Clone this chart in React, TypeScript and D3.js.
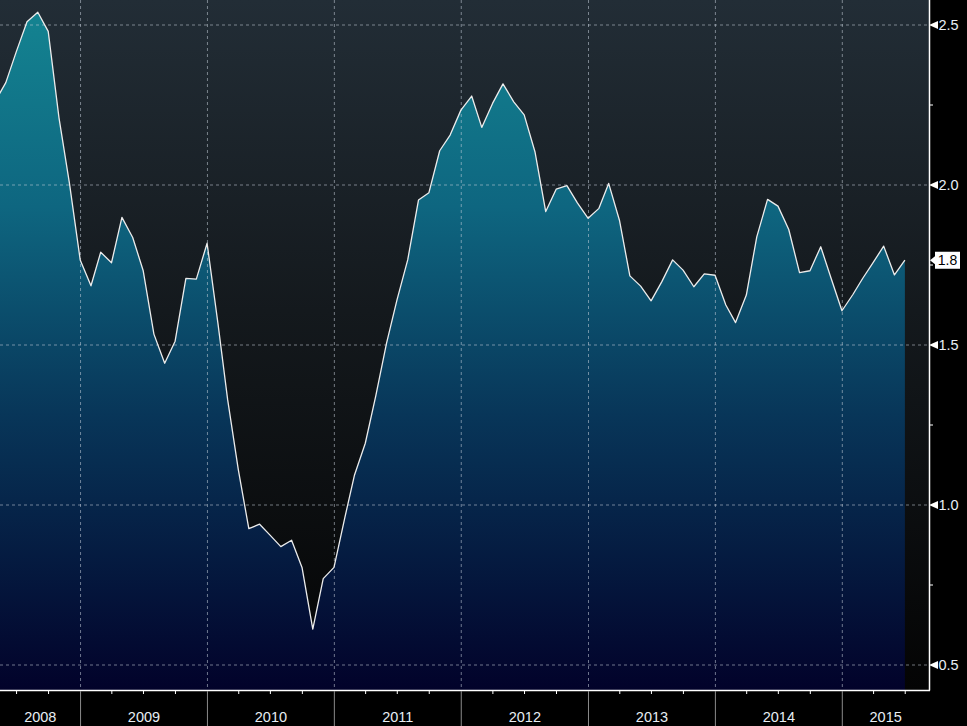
import React from 'react';
import * as d3 from 'd3';

const W = 967;
const H = 726;
const PLOT_RIGHT = 929;
const PLOT_BOTTOM = 690;

// Monthly series, first value = April 2008, plotted at month end
const startYear = 2008;
const startMonth = 3;
const values2008 = [2.26, 2.32, 2.416, 2.51, 2.54, 2.48, 2.21, 2.006, 1.766];
const values2009 = [1.685, 1.79, 1.757, 1.899, 1.836, 1.733, 1.534, 1.443, 1.512, 1.708, 1.706, 1.818];
const values2010 = [1.569, 1.33, 1.109, 0.926, 0.94, 0.906, 0.87, 0.89, 0.805, 0.612, 0.77, 0.805];
const values2011 = [0.96, 1.094, 1.193, 1.34, 1.505, 1.64, 1.766, 1.953, 1.976, 2.107, 2.156, 2.234];
const values2012 = [2.278, 2.18, 2.255, 2.316, 2.26, 2.219, 2.104, 1.917, 1.987, 1.998, 1.944, 1.896];
const values2013 = [1.927, 2.005, 1.89, 1.716, 1.684, 1.638, 1.698, 1.766, 1.734, 1.682, 1.722, 1.718];
const values2014 = [1.625, 1.57, 1.656, 1.838, 1.955, 1.934, 1.861, 1.726, 1.732, 1.807, 1.708, 1.607];
const values2015 = [1.657, 1.707, 1.758, 1.809, 1.719, 1.765];

const yTicks = [0.5, 1.0, 1.5, 2.0, 2.5];
const yMinorTicks = [0.75, 1.25, 1.75, 2.25];
const yearLabels = [2008, 2009, 2010, 2011, 2012, 2013, 2014, 2015];
const lastLabel = '1.8';

const allValues = [
  ...values2008, ...values2009, ...values2010, ...values2011,
  ...values2012, ...values2013, ...values2014, ...values2015,
];
const data = allValues.map((v, i) => ({
  date: new Date(startYear, startMonth + i + 1, 0),
  value: v,
}));

const FONT = '"Liberation Sans", Arial, sans-serif';

export default function App() {
  const x = d3
    .scaleTime()
    .domain([new Date(2008, 0, 1), new Date(2015, 0, 1)])
    .range([-46.7, 842.3]);
  const y = d3.scaleLinear().domain([0.5, 2.5]).range([665, 25]);

  const line = d3
    .line<{ date: Date; value: number }>()
    .x((d) => x(d.date))
    .y((d) => y(d.value));
  const area = d3
    .area<{ date: Date; value: number }>()
    .x((d) => x(d.date))
    .y0(PLOT_BOTTOM)
    .y1((d) => y(d.value));

  const quarterTicks = d3.timeMonth
    .every(3)!
    .range(new Date(2008, 0, 1), new Date(2016, 0, 1))
    .filter((d) => d.getMonth() !== 0)
    .map((d) => x(d))
    .filter((px) => px >= 0 && px <= PLOT_RIGHT);

  const yearLines = yearLabels
    .map((yr) => x(new Date(yr, 0, 1)))
    .filter((px) => px > 0 && px < PLOT_RIGHT);

  const last = data[data.length - 1];
  const ly = y(last.value);

  const gridColor = 'rgba(200,210,220,0.55)';

  return (
    <svg
      width={W}
      height={H}
      style={{ position: 'absolute', left: 0, top: 0, background: '#000' }}
    >
      <defs>
        <linearGradient id="bgGrad" gradientUnits="userSpaceOnUse" x1="0" y1="0" x2="0" y2={PLOT_BOTTOM}>
          <stop offset="0" stopColor="#222d36" />
          <stop offset="0.45" stopColor="#14191d" />
          <stop offset="1" stopColor="#040404" />
        </linearGradient>
        <linearGradient id="areaGrad" gradientUnits="userSpaceOnUse" x1="0" y1="0" x2="0" y2={PLOT_BOTTOM}>
          <stop offset="0" stopColor="#148592" />
          <stop offset="0.3" stopColor="#0e6680" />
          <stop offset="0.6" stopColor="#083659" />
          <stop offset="1" stopColor="#02022a" />
        </linearGradient>
        <clipPath id="plotClip">
          <rect x={0} y={0} width={PLOT_RIGHT} height={PLOT_BOTTOM} />
        </clipPath>
      </defs>

      <rect x={0} y={0} width={PLOT_RIGHT} height={PLOT_BOTTOM} fill="url(#bgGrad)" />

      <g clipPath="url(#plotClip)">
        <path d={area(data) || ''} fill="url(#areaGrad)" />
        {yTicks.map((t) => (
          <line
            key={'h' + t}
            x1={0}
            x2={PLOT_RIGHT}
            y1={y(t)}
            y2={y(t)}
            stroke={gridColor}
            strokeWidth={1}
            strokeDasharray="3,3"
          />
        ))}
        {yearLines.map((px, i) => (
          <line
            key={'v' + i}
            x1={px}
            x2={px}
            y1={0}
            y2={PLOT_BOTTOM}
            stroke={gridColor}
            strokeWidth={1}
            strokeDasharray="3,3"
          />
        ))}
        <path d={line(data) || ''} fill="none" stroke="#ececec" strokeWidth={1.3} strokeLinejoin="round" />
      </g>

      {/* plot frame */}
      <line x1={PLOT_RIGHT + 0.5} x2={PLOT_RIGHT + 0.5} y1={0} y2={PLOT_BOTTOM + 0.5} stroke="#fff" strokeWidth={1.5} />
      <line x1={0} x2={PLOT_RIGHT + 1} y1={PLOT_BOTTOM + 0.5} y2={PLOT_BOTTOM + 0.5} stroke="#fff" strokeWidth={1.5} />

      {/* y axis */}
      {yMinorTicks.map((t) => (
        <line key={'m' + t} x1={PLOT_RIGHT} x2={PLOT_RIGHT + 4} y1={y(t)} y2={y(t)} stroke="#fff" strokeWidth={1} />
      ))}
      {yTicks.map((t) => (
        <g key={'yt' + t}>
          <path
            d={`M${PLOT_RIGHT},${y(t)} L${PLOT_RIGHT + 9},${y(t) - 4} L${PLOT_RIGHT + 9},${y(t) + 4} Z`}
            fill="#fff"
          />
          <text
            x={PLOT_RIGHT + 9.5}
            y={y(t)}
            dy="0.36em"
            fill="#e8eef4"
            fontFamily={FONT}
            fontSize={14.5}
          >
            {t.toFixed(1)}
          </text>
        </g>
      ))}

      {/* last value tag */}
      <path
        d={`M${PLOT_RIGHT + 1},${ly} L${PLOT_RIGHT + 6},${ly - 4} L${PLOT_RIGHT + 6},${ly - 8.5} L${PLOT_RIGHT + 31},${ly - 8.5} L${PLOT_RIGHT + 31},${ly + 8.5} L${PLOT_RIGHT + 6},${ly + 8.5} L${PLOT_RIGHT + 6},${ly + 4} Z`}
        fill="#fff"
      />
      <text
        x={PLOT_RIGHT + 18.5}
        y={ly}
        dy="0.36em"
        textAnchor="middle"
        fill="#000"
        fontFamily={FONT}
        fontSize={14}
      >
        {lastLabel}
      </text>

      {/* x axis */}
      {quarterTicks.map((px, i) => (
        <line key={'q' + i} x1={px} x2={px} y1={PLOT_BOTTOM} y2={PLOT_BOTTOM + 4} stroke="#fff" strokeWidth={1} />
      ))}
      {yearLines.map((px, i) => (
        <line key={'ys' + i} x1={px} x2={px} y1={PLOT_BOTTOM + 1} y2={H} stroke="#8a8a8a" strokeWidth={1} />
      ))}
      {yearLabels.map((yr) => {
        const a = Math.max(0, x(new Date(yr, 0, 1)));
        const b = Math.min(PLOT_RIGHT, x(new Date(yr + 1, 0, 1)));
        return (
          <text
            key={'yl' + yr}
            x={(a + b) / 2}
            y={721.5}
            textAnchor="middle"
            fill="#e8eef4"
            fontFamily={FONT}
            fontSize={14.5}
          >
            {yr}
          </text>
        );
      })}
    </svg>
  );
}
